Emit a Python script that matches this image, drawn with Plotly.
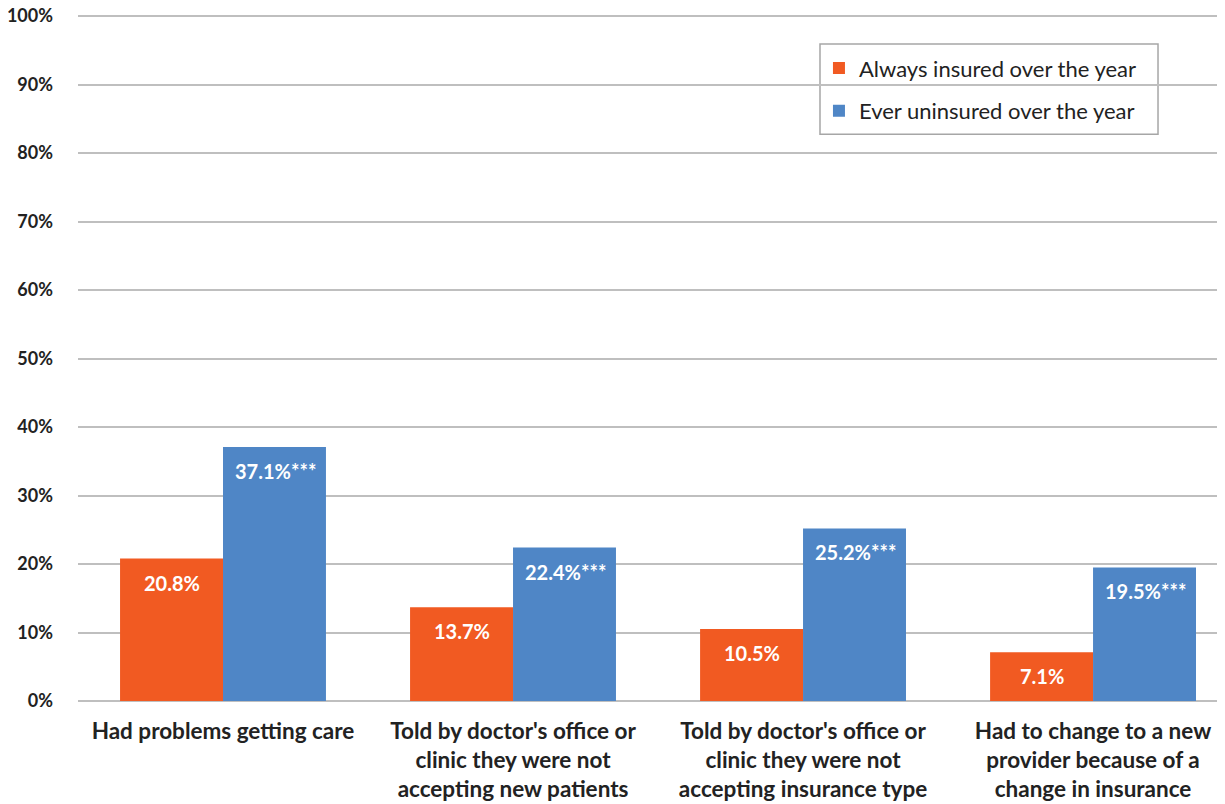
import plotly.graph_objects as go

categories = [
    "Had problems getting care",
    "Told by doctor's office or<br>clinic they were not<br>accepting new patients",
    "Told by doctor's office or<br>clinic they were not<br>accepting insurance type",
    "Had to change to a new<br>provider because of a<br>change in insurance",
]
always_insured = [20.8, 13.7, 10.5, 7.1]
ever_uninsured = [37.1, 22.4, 25.2, 19.5]
uninsured_sig = ["***", "***", "***", "***"]

ORANGE = "#F15A22"
BLUE = "#4F86C6"
FONT = "Lato, 'Open Sans', sans-serif"

x = list(range(len(categories)))

fig = go.Figure()
fig.add_trace(go.Bar(x=x, y=always_insured, name="Always insured over the year",
                     marker=dict(color=ORANGE, line=dict(width=0)),
                     legendgroup="a"))
fig.add_trace(go.Bar(x=x, y=ever_uninsured, name="Ever uninsured over the year",
                     marker=dict(color=BLUE, line=dict(width=0)),
                     legendgroup="b"))

# value labels inside the bars, near the top
for i in x:
    fig.add_annotation(x=i, y=always_insured[i], xshift=-51, yshift=-24,
                       text=f"<b>{always_insured[i]:.1f}%</b>", showarrow=False,
                       font=dict(color="white", size=20, family=FONT))
    fig.add_annotation(x=i, y=ever_uninsured[i], xshift=52, yshift=-24,
                       text=f"<b>{ever_uninsured[i]:.1f}%{uninsured_sig[i]}</b>",
                       showarrow=False,
                       font=dict(color="white", size=20, family=FONT))

# legend frame (wider than plotly's own legend box)
fig.add_shape(type="rect", xref="paper", yref="paper",
              x0=0.6469, x1=0.9416, y0=0.8263, y1=0.9577,
              line=dict(color="#A6A6A6", width=1.5), fillcolor="white",
              layer="below")

# the page body adds an 8px offset, so the figure is 8px smaller
fig.update_layout(
    width=1217, height=796,
    margin=dict(l=70, r=0, t=7, b=103),
    plot_bgcolor="white", paper_bgcolor="white",
    barmode="group", bargap=0.29, bargroupgap=0,
    font=dict(family=FONT, color="#222222"),
    legend=dict(x=0.646, y=0.953, xanchor="left", yanchor="top",
                borderwidth=0,
                font=dict(size=22, color="#222222", family=FONT),
                tracegroupgap=11, bgcolor="rgba(0,0,0,0)"),
)
fig.update_xaxes(
    range=[-0.5, 3.455], tickmode="array", tickvals=x,
    ticktext=[f"<b>{c}</b>" for c in categories],
    tickfont=dict(size=22.5, color="#222222"), showgrid=False,
    showline=False, ticks="", ticklabelstandoff=14, automargin=False,
)
fig.update_yaxes(
    range=[0, 100.15], tickmode="array",
    tickvals=list(range(0, 101, 10)),
    ticktext=[f"{v}%" for v in range(0, 101, 10)],
    tickfont=dict(size=18, color="#222222", weight="bold"),
    showgrid=True, gridcolor="#BFBFBF", gridwidth=1.5,
    zeroline=True, zerolinecolor="#BFBFBF", zerolinewidth=1.5,
    ticks="", ticklabelstandoff=24, automargin=False,
    ticklabeloverflow="allow",
)

fig.write_html("out.html")
